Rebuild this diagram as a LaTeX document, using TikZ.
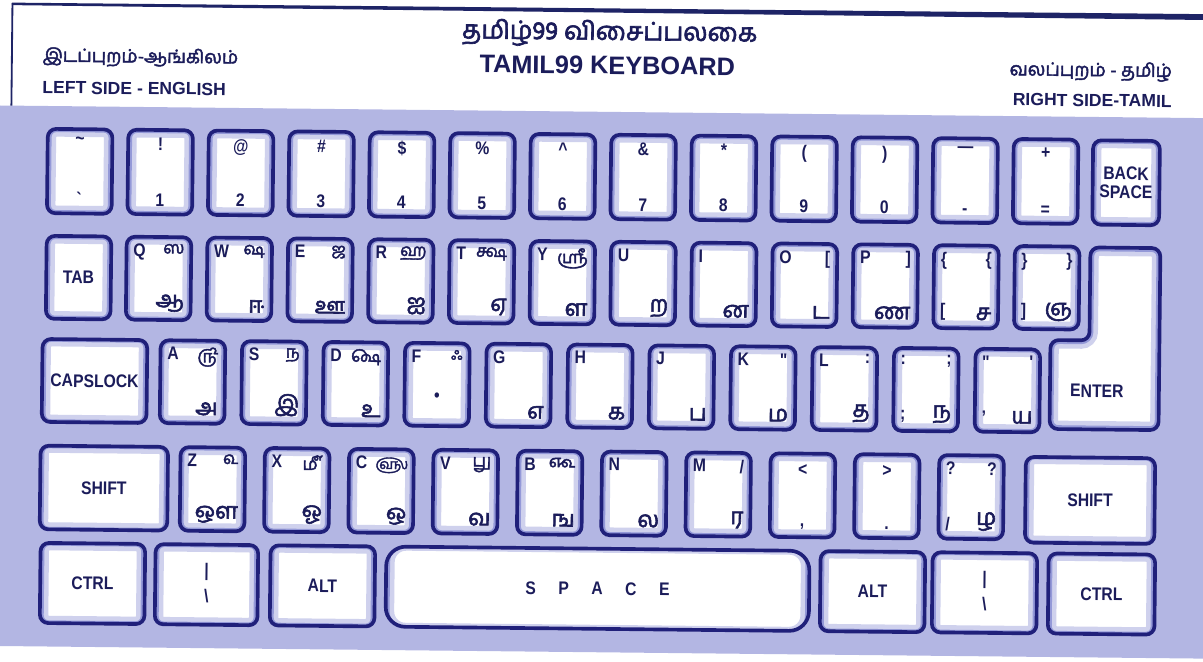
\documentclass[tikz,border=0pt]{standalone}
\usepackage{fontspec}
\setmainfont{Liberation Sans}
\newfontfamily\keyfont[FakeStretch=0.86]{Liberation Sans}
\newfontfamily\tamil[Script=Tamil, FakeBold=2.5]{Hind Madurai}
\usetikzlibrary{positioning}
\definecolor{kbBack}{HTML}{B3B6E3}
\definecolor{kbNavy}{HTML}{20207A}
\definecolor{kbGlow}{HTML}{9499D8}
\definecolor{kbInk}{HTML}{1B1C5A}
\definecolor{kbRule}{HTML}{1E2466}
\tikzset{
  keycap/.style={draw=kbNavy, line width=2.6pt, fill=white, rounded corners=#1,
              minimum width=46pt, minimum height=60pt, inner sep=0pt,
              path picture={
                \draw[kbGlow!45, line width=12pt, rounded corners=#1]
                  (path picture bounding box.south west) rectangle (path picture bounding box.north east);
                \draw[kbGlow, line width=5.5pt, rounded corners=#1]
                  (path picture bounding box.south west) rectangle (path picture bounding box.north east);}},
  keycap/.default=6pt,
  lab/.style={inner sep=0pt, text=kbInk, font=\keyfont\bfseries\fontsize{13}{14}\selectfont},
  tam/.style={inner sep=0pt, text=kbInk, font=\tamil\fontsize{16}{17}\selectfont},
  sign/.style={inner sep=0pt, text=kbInk, font=\tamil\fontsize{12}{13}\selectfont},
  headTa/.style={inner sep=0pt, text=kbInk, font=\tamil\fontsize{18}{20}\selectfont},
  headEn/.style={inner sep=0pt, text=kbInk, font=\bfseries\fontsize{18}{20}\selectfont},
  sideTa/.style={inner sep=0pt, text=kbInk, font=\tamil\fontsize{13}{15}\selectfont},
  sideEn/.style={inner sep=0pt, text=kbInk, font=\bfseries\fontsize{12.5}{14}\selectfont},
  topleft/.style={below right=6pt and 6pt of #1.north west},
  topright/.style={below left=6pt and 6pt of #1.north east},
  botleft/.style={above right=7pt and 6pt of #1.south west},
  botright/.style={above left=7pt and 6pt of #1.south east},
}

\begin{document}
\begin{tikzpicture}[x=0.025cm, y=-0.025cm]
  \useasboundingbox (0,0) rectangle (1203,662);
  \clip (0,0) rectangle (1203,662);
  \begin{scope}[rotate=-0.6, transform shape]
    % header and board
    \fill[kbBack] (-40,105.5) rectangle (1260,646);
    \fill[kbRule] (12,2.5) -- (1260,1.5) -- (1260,7.5) -- (12,5) -- cycle;
    \draw[kbRule, line width=1.3pt] (12.5,3) -- (12.5,105.5);
    \node[headTa] (titleTa) at (610,27) {தமிழ்99 விசைப்பலகை};
    \node[headEn] (titleEn) at (608,59) {TAMIL99 KEYBOARD};
    \node[sideTa, anchor=west] (leftTa) at (43,56) {இடப்புறம்-ஆங்கிலம்};
    \node[sideEn, anchor=west] (leftEn) at (43,87) {LEFT SIDE - ENGLISH};
    \node[sideTa, anchor=east] (rightTa) at (1173,60) {வலப்புறம் - தமிழ்};
    \node[sideEn, anchor=east] (rightEn) at (1173,89) {RIGHT SIDE-TAMIL};

    % row 1
    \foreach \n/\x/\up/\dn in {gr/81.5/\textasciitilde/\textasciigrave, 1/162/!/1, 2/242.5/@/2,
        3/323/\#/3, 4/403.5/\$/4, 5/484/\%/5, 6/564.5/\textasciicircum/6, 7/645/\&/7,
        8/725.5/*/8, 9/806/(/9, 0/886.5/)/0, mi/967/—/-, eq/1047.5/+/=}{
      \node[keycap] (k\n) at (\x,170.5) {};
      \node[lab, below=7pt of k\n.north] (k\n-up) {\up};
      \node[lab, above=7pt of k\n.south] (k\n-dn) {\dn};
    }
    \node[keycap, minimum width=47.5pt] (kBack) at (1128,171) {};
    \node[lab, align=center] (kBack-t) at (kBack) {BACK\\[-1pt]SPACE};

    % row 2
    \node[keycap, minimum height=59pt] (kTab) at (81.5,276.8) {};
    \node[lab] (kTab-t) at (kTab) {TAB};
    \foreach \n/\x in {Q/161.5, W/242.25, E/323, R/403.75, T/484.5, Y/565.25, U/646,
        I/726.75, O/807.5, P/888.25, lb/969, rb/1049.75}
      \node[keycap, minimum height=59pt] (k\n) at (\x,276.8) {};
    \foreach \n/\t in {Q/Q, W/W, E/E, R/R, T/T, Y/Y, U/U, I/I, O/O, P/P, lb/\{, rb/\}}
      \node[lab, topleft=k\n] (k\n-tl) {\t};
    \foreach \n/\t in {Q/ஸ, W/ஷ, E/ஜ, R/ஹ, T/க்ஷ, Y/ஸ்ரீ}
      \node[sign, topright=k\n] (k\n-tr) {\t};
    \foreach \n/\t in {O/[, P/], lb/\{, rb/\}}
      \node[lab, topright=k\n] (k\n-tr) {\t};
    \foreach \n/\t in {lb/[, rb/]}
      \node[lab, botleft=k\n] (k\n-bl) {\t};
    \foreach \n/\t in {Q/ஆ, W/ஈ, E/ஊ, R/ஐ, T/ஏ, Y/ள, U/ற, I/ன, O/ட, P/ண, lb/ச, rb/ஞ}
      \node[tam, botright=k\n] (k\n-br) {\t};

    % enter
    \def\enterpath{(1093,236) -- (1163,236) -- (1163,418) -- (1054,418) -- (1054,329) -- (1093,329) -- cycle}
    \fill[white, rounded corners=6pt] \enterpath;
    \begin{scope}
      \clip[rounded corners=6pt] \enterpath;
      \draw[kbGlow!45, line width=12pt, rounded corners=6pt] \enterpath;
      \draw[kbGlow, line width=5.5pt, rounded corners=6pt] \enterpath;
    \end{scope}
    \draw[kbNavy, line width=2.6pt, rounded corners=6pt] \enterpath;
    \node[lab] (kEnter-t) at (1101,379.5) {ENTER};

    % row 3
    \node[keycap, minimum width=74.5pt, minimum height=59pt] (kCaps) at (98.5,380) {};
    \node[lab] (kCaps-t) at (kCaps) {CAPSLOCK};
    \foreach \n/\x in {A/196.5, S/278, D/359.5, F/441, G/522.5, H/604, J/685.5, K/767,
        L/848.5, sc/930, ap/1011.5}
      \node[keycap, minimum height=59pt] (k\n) at (\x,380) {};
    \foreach \n/\t in {A/A, S/S, D/D, F/F, G/G, H/H, J/J, K/K, L/L, sc/:, ap/\textquotedbl}
      \node[lab, topleft=k\n] (k\n-tl) {\t};
    \foreach \n/\t in {A/௹, S/௺, D/௸, F/ஃ}
      \node[sign, topright=k\n] (k\n-tr) {\t};
    \foreach \n/\t in {K/\textquotedbl, L/:, sc/;, ap/'}
      \node[lab, topright=k\n] (k\n-tr) {\t};
    \foreach \n/\t in {sc/;, ap/’}
      \node[lab, botleft=k\n] (k\n-bl) {\t};
    \foreach \n/\t in {A/அ, S/இ, D/உ, G/எ, H/க, J/ப, K/ம, L/த, sc/ந, ap/ய}
      \node[tam, botright=k\n] (k\n-br) {\t};
    \node[lab, below=6pt of kF.center] (kF-dot) {\textbullet};

    % row 4
    \node[keycap, minimum width=90.7pt, minimum height=59.5pt] (kLShift) at (109,487) {};
    \node[lab] (kLShift-t) at (kLShift) {SHIFT};
    \foreach \n/\x in {Z/217.6, X/301.9, C/386.2, V/470.5, B/554.8, N/639.1, M/723.4,
        cm/807.7, pd/892, sl/976.3}
      \node[keycap, minimum height=59.5pt] (k\n) at (\x,487) {};
    \foreach \n/\t in {Z/Z, X/X, C/C, V/V, B/B, N/N, M/M, sl/?}
      \node[lab, topleft=k\n] (k\n-tl) {\t};
    \foreach \n/\t in {Z/௳, X/௴, V/௶, B/௷}
      \node[sign, topright=k\n] (k\n-tr) {\t};
    \node[sign, font=\tamil\fontsize{10}{11}\selectfont, below left=7pt and 5pt of kC.north east] (kC-tr) {௵};
    \foreach \n/\t in {M/{/}, sl/?}
      \node[lab, topright=k\n] (k\n-tr) {\t};
    \foreach \n/\up/\dn in {cm/</{,}, pd/>/.}{
      \node[lab, below=9pt of k\n.north] (k\n-up) {\up};
      \node[lab, above=7pt of k\n.south] (k\n-dn) {\dn};
    }
    \node[lab, botleft=ksl] (ksl-bl) {/};
    \foreach \n/\t in {Z/ஔ, X/ஓ, C/ஒ, V/வ, B/ங, N/ல, M/ர, sl/ழ}
      \node[tam, botright=k\n] (k\n-br) {\t};
    \node[keycap, minimum width=92pt, minimum height=61pt] (kRShift) at (1095.3,489) {};
    \node[lab] (kRShift-t) at (kRShift) {SHIFT};

    % row 5
    \foreach \n/\x/\w/\t in {lc/98.6/74.4/CTRL, la/328.6/74.4/ALT, ra/878.7/74.4/ALT,
        rc/1107.7/75.8/CTRL}{
      \node[keycap, minimum width=\w pt, minimum height=57pt] (k\n) at (\x,582.5) {};
      \node[lab] (k\n-t) at (k\n) {\t};
    }
    \foreach \n/\x/\w in {lp/212.6/73, rp/990.7/74.4}{
      \node[keycap, minimum width=\w pt, minimum height=57pt] (k\n) at (\x,582.5) {};
      \node[lab, above=3pt of k\n.center] (k\n-up) {|};
      \node[lab, below=3pt of k\n.center] (k\n-dn) {\textbackslash};
    }
    \node[keycap=14pt, minimum width=301pt, minimum height=57pt] (kSpace) at (603.7,582.5) {};
    \node[lab] (kSpace-t) at (kSpace) {S\hspace{16pt}P\hspace{16pt}A\hspace{16pt}C\hspace{16pt}E};
  \end{scope}
\end{tikzpicture}
\end{document}
